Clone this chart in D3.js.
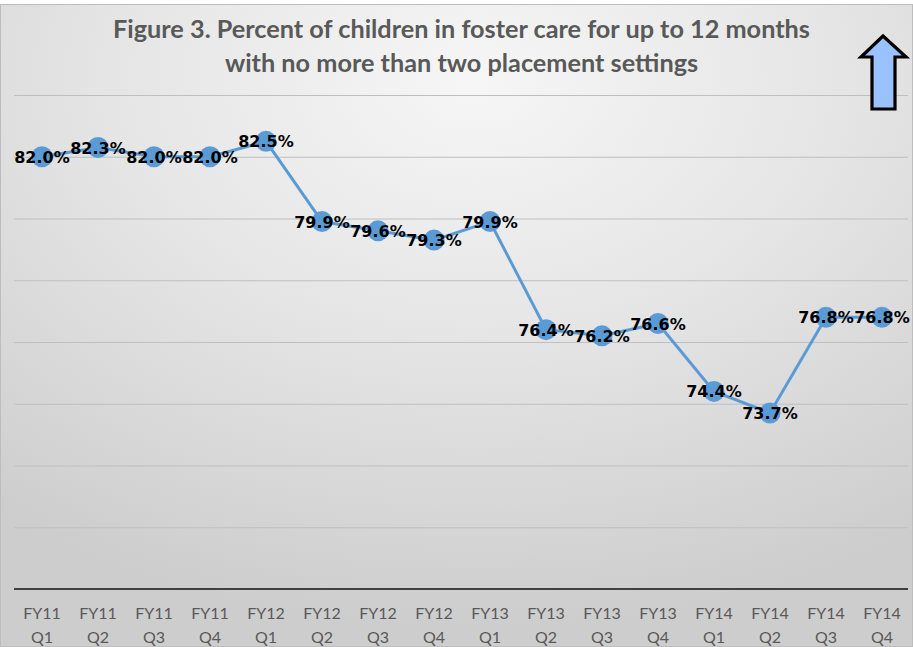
<!DOCTYPE html>
<html>
<head>
<meta charset="utf-8">
<script src="https://cdn.jsdelivr.net/npm/d3@7/dist/d3.min.js"></script>
<style>
  html, body { margin: 0; padding: 0; background: #ffffff; }
  svg { display: block; }
</style>
</head>
<body>
<div id="chart"></div>
<script>
// ---- data ----
const fiscalYears = ["FY11","FY11","FY11","FY11","FY12","FY12","FY12","FY12","FY13","FY13","FY13","FY13","FY14","FY14","FY14","FY14"];
const quarters    = ["Q1","Q2","Q3","Q4","Q1","Q2","Q3","Q4","Q1","Q2","Q3","Q4","Q1","Q2","Q3","Q4"];
const percentValues = [82.0, 82.3, 82.0, 82.0, 82.5, 79.9, 79.6, 79.3, 79.9, 76.4, 76.2, 76.6, 74.4, 73.7, 76.8, 76.8];
const yTickValues = [70, 72, 74, 76, 78, 80, 82, 84];
const titleLines = ["Figure 3. Percent of children in foster care for up to 12 months",
                    "with no more than two placement settings"];

const categories = fiscalYears.map((fy, i) => fy + " " + quarters[i]);
const rows = categories.map((c, i) => ({ cat: c, fy: fiscalYears[i], q: quarters[i], v: percentValues[i] }));

// ---- layout ----
const W = 913, H = 647;
const plot = { left: 14, right: 910, top: 95, bottom: 589 };

const svg = d3.select("#chart").append("svg").attr("width", W).attr("height", H);
const defs = svg.append("defs");
const grad = defs.append("radialGradient").attr("id", "bg")
  .attr("cx", "52%").attr("cy", "12%").attr("r", "85%")
  .attr("gradientUnits", "objectBoundingBox");
grad.append("stop").attr("offset", "0%").attr("stop-color", "#f6f6f6");
grad.append("stop").attr("offset", "45%").attr("stop-color", "#e6e6e6");
grad.append("stop").attr("offset", "100%").attr("stop-color", "#cdcdcd");

svg.append("rect").attr("x", 0).attr("y", 0).attr("width", W).attr("height", H).attr("fill", "#ffffff");
svg.append("rect").attr("x", 0.5).attr("y", 4.5).attr("width", W - 1).attr("height", H - 5)
  .attr("fill", "url(#bg)").attr("stroke", "#bdbdbd").attr("stroke-width", 1);

// ---- scales ----
const x = d3.scaleBand().domain(categories).range([plot.left, plot.right]).paddingInner(0).paddingOuter(0);
const y = d3.scaleLinear().domain([68, 84]).range([plot.bottom, plot.top]);
const cx = d => x(d.cat) + x.bandwidth() / 2;

// gridlines
const yAxisGrid = d3.axisLeft(y).tickValues(yTickValues).tickSize(-(plot.right - plot.left - 2)).tickFormat("");
const gGrid = svg.append("g").attr("transform", `translate(${plot.left},0)`).call(yAxisGrid);
gGrid.select(".domain").remove();
gGrid.selectAll(".tick line").attr("stroke", "#bfbfbf").attr("stroke-width", 1);

// x axis
const xAxis = d3.axisBottom(x).tickSize(0).tickFormat("");
const gX = svg.append("g").attr("transform", `translate(0,${plot.bottom})`).call(xAxis);
gX.select(".domain").attr("stroke", "#404040").attr("stroke-width", 2.2).attr("d", `M${plot.left},0H${plot.right - 2}`);
gX.selectAll(".tick").each(function(d, i) {
  const t = d3.select(this).append("text")
    .attr("fill", "#595959").attr("text-anchor", "middle")
    .style("font-family", "Lato, 'Open Sans', sans-serif").style("font-size", "16px");
  t.append("tspan").attr("x", 0).attr("y", 30).text(rows[i].fy);
  t.append("tspan").attr("x", 0).attr("y", 54).text(rows[i].q);
});

// title
const title = svg.append("g");
titleLines.forEach((line, i) => {
  title.append("text").attr("x", W / 2 + 5).attr("y", 38 + i * 34)
    .attr("text-anchor", "middle").attr("fill", "#595959")
    .style("font-family", "Lato, 'Open Sans', sans-serif").style("font-weight", "bold")
    .style("font-size", "23px").text(line);
});
// fit first title line to reference width
{
  const t0 = title.select("text").node();
  const w0 = t0.getComputedTextLength();
  const target = 697;
  const fs = 23 * target / w0;
  title.selectAll("text").style("font-size", fs.toFixed(2) + "px");
}

// arrow decoration (top right)
svg.append("path")
  .attr("d", "M883,36 L906,57 L895,57 L895,109 L872,109 L872,57 L861,57 Z")
  .attr("fill", "#99c2ff").attr("stroke", "#000").attr("stroke-width", 3.2).attr("stroke-linejoin", "miter");

// line
const line = d3.line().x(cx).y(d => y(d.v));
svg.append("path").datum(rows).attr("d", line)
  .attr("fill", "none").attr("stroke", "#5b9bd5").attr("stroke-width", 3);

// markers
svg.append("g").selectAll("circle").data(rows).join("circle")
  .attr("cx", cx).attr("cy", d => y(d.v)).attr("r", 10.5)
  .attr("fill", "#5b9bd5");

// labels
svg.append("g").selectAll("text").data(rows).join("text")
  .attr("x", cx).attr("y", d => y(d.v))
  .attr("dy", "0.38em").attr("text-anchor", "middle")
  .attr("fill", "#000")
  .style("font-family", "'DejaVu Sans', Verdana, sans-serif").style("font-weight", "bold").style("font-size", "16px")
  .text(d => d.v.toFixed(1) + "%");
</script>
</body>
</html>
